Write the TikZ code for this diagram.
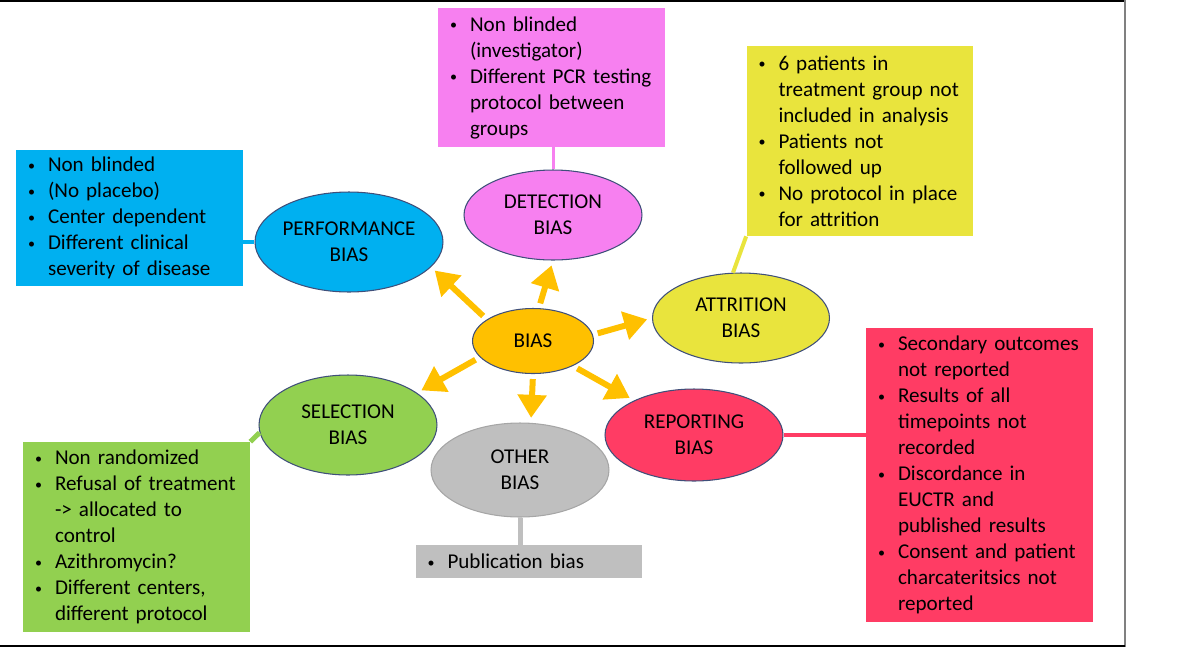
\documentclass[tikz,border=0pt]{standalone}
\usepackage{fontspec}
\setmainfont{Carlito}
\usetikzlibrary{shapes.geometric,arrows.meta}

\definecolor{perfblue}{HTML}{00B0F0}
\definecolor{detpink}{HTML}{F780F0}
\definecolor{attryellow}{HTML}{E9E43D}
\definecolor{repred}{HTML}{FF3C64}
\definecolor{selgreen}{HTML}{92D050}
\definecolor{othgray}{HTML}{BFBFBF}
\definecolor{biasorange}{HTML}{FFC000}
\definecolor{edgeblue}{HTML}{3F4F7A}

\newcommand{\bul}{\makebox[0.44cm][l]{\hspace{0.04cm}\raisebox{0.15ex}{\footnotesize\textbullet}}}
\newcommand{\ind}{\hspace*{0.44cm}}

\tikzset{
  bubble/.style={ellipse, draw=edgeblue, line width=0.6pt, inner sep=0pt, align=center,
    font=\fontsize{12}{14.8}\selectfont},
  notebox/.style={rectangle, inner xsep=0.2cm, inner ysep=0pt, text width=4.14cm, align=left,
    font={\fontsize{12}{14.8}\selectfont\parindent=0pt}},
  arr/.style={draw=biasorange, line width=0.12cm, -{Triangle[length=0.46cm,width=0.56cm]},
    shorten <=0.1cm, shorten >=0.1cm},
  link/.style={line width=0.08cm}
}

\begin{document}
\begin{tikzpicture}[x=0.02cm,y=-0.02cm]
\useasboundingbox (0,0) rectangle (1200,660);
\draw[line width=1.4pt] (0,1) -- (1125,1);
\draw[gray, line width=1.2pt] (1125,0) -- (1125,647);
\draw[line width=1.4pt] (0,646) -- (1125,646);

\node[notebox, fill=detpink, minimum height=2.78cm] (detbox) at (551.5,77.5)
  {\bul Non blinded\\ \ind(investigator)\\ \bul Different PCR testing\\ \ind protocol between\\ \ind groups};
\node[notebox, fill=attryellow, minimum height=3.8cm] (attrbox) at (860,141)
  {\bul 6 patients in\\ \ind treatment group not\\ \ind included in analysis\\ \bul Patients not\\ \ind followed up\\ \bul No protocol in place\\ \ind for attrition};
\node[notebox, fill=perfblue, minimum height=2.72cm] (perfbox) at (129.5,218)
  {\bul Non blinded\\ \bul (No placebo)\\ \bul Center dependent\\ \bul Different clinical\\ \ind severity of disease};
\node[notebox, fill=repred, minimum height=5.88cm] (repbox) at (979.5,475)
  {\bul Secondary outcomes\\ \ind not reported\\ \bul Results of all\\ \ind timepoints not\\ \ind recorded\\ \bul Discordance in\\ \ind EUCTR and\\ \ind published results\\ \bul Consent and patient\\ \ind charcateritsics not\\ \ind reported};
\node[notebox, fill=selgreen, minimum height=3.8cm] (selbox) at (136.5,537)
  {\bul Non randomized\\ \bul Refusal of treatment\\ \ind -> allocated to\\ \ind control\\ \bul Azithromycin?\\ \bul Different centers,\\ \ind different protocol};
\node[notebox, fill=othgray, minimum height=0.66cm] (othbox) at (529,561.5)
  {\bul Publication bias};

\node[bubble, fill=perfblue, minimum width=3.48cm, minimum height=2.0cm] (perf) at (349,242) {PERFORMANCE\\BIAS};
\node[bubble, fill=detpink, minimum width=3.56cm, minimum height=1.8cm] (detect) at (553,215) {DETECTION\\BIAS};
\node[bubble, fill=attryellow, minimum width=3.54cm, minimum height=1.8cm] (attr) at (741,318) {ATTRITION\\BIAS};
\node[bubble, fill=biasorange, minimum width=2.42cm, minimum height=1.3cm] (bias) at (533,341) {BIAS};
\node[bubble, fill=repred, minimum width=3.56cm, minimum height=1.84cm] (report) at (694,435) {REPORTING\\BIAS};
\node[bubble, fill=selgreen, minimum width=3.56cm, minimum height=2.0cm] (select) at (348,425) {SELECTION\\BIAS};
\node[bubble, fill=othgray, draw=gray!70, minimum width=3.56cm, minimum height=1.88cm] (other) at (520,470) {OTHER\\BIAS};

\draw[link, detpink, line width=0.06cm] (detect.north) -- (detect.north |- detbox.south);
\draw[link, perfblue] (perf.west) -- (perf.west -| perfbox.east);
\draw[link, attryellow] (attrbox.south west) -- (attr.100);
\draw[link, selgreen, line width=0.1cm] (selbox.north east) -- (select.185);
\draw[link, repred] (report.east) -- (report.east -| repbox.west);
\draw[link, othgray, line width=0.1cm] (other.south) -- (other.south |- othbox.north);

\draw[arr] (bias.155) -- (perf.-17);
\draw[arr] (bias.80) -- (detect.-90);
\draw[arr] (bias.6) -- (attr.180);
\draw[arr] (bias.-32) -- (report.150);
\draw[arr] (bias.-90) -- (other.77);
\draw[arr] (bias.197) -- (select.25);
\end{tikzpicture}
\end{document}
